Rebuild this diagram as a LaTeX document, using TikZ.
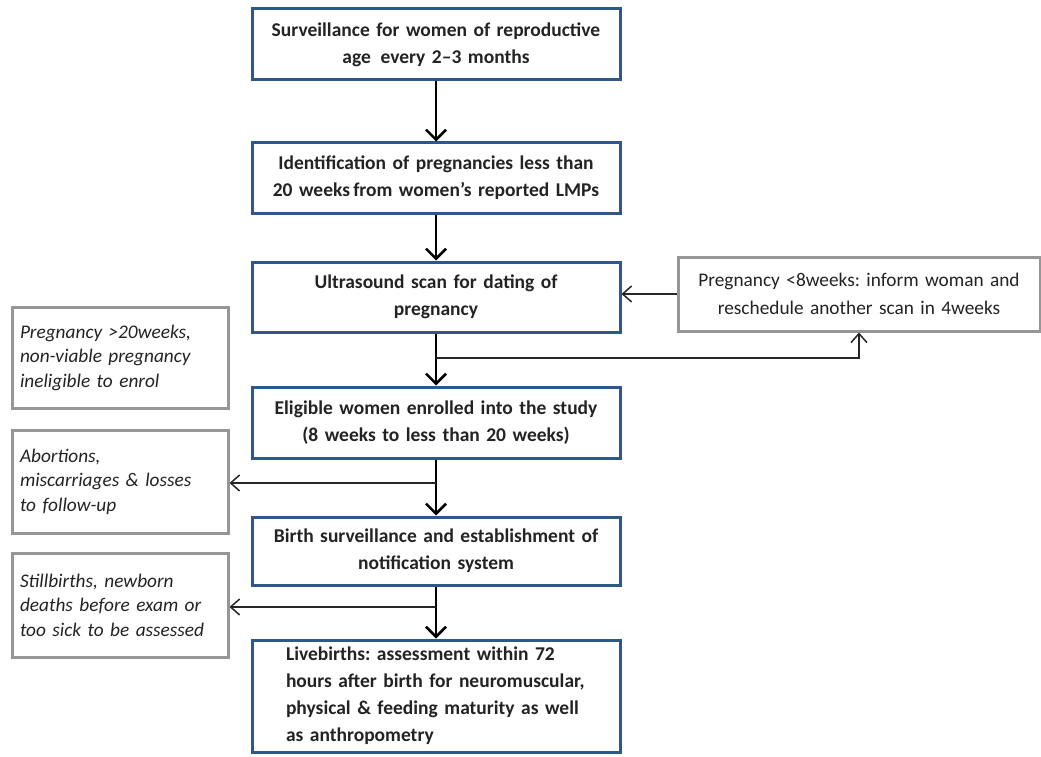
\documentclass[tikz,border=0pt]{standalone}
\usepackage{fontspec}
\setmainfont{Carlito}
\usetikzlibrary{arrows.meta}
\definecolor{boxblue}{RGB}{44,88,138}
\definecolor{boxgray}{RGB}{150,150,150}
\definecolor{txt}{RGB}{35,35,35}
\frenchspacing
\begin{document}
\begin{tikzpicture}[x=1pt,y=-1pt,
 mainbox/.style={draw=boxblue, line width=3pt, fill=white, minimum width=368pt, text width=355pt, align=center, font=\fontsize{19.5}{27}\selectfont\bfseries, text=txt, inner sep=0pt},
 notebox/.style={draw=boxgray, line width=3pt, fill=white, text=txt, font=\fontsize{19.3}{28}\selectfont, align=center, inner sep=0pt},
 sidebox/.style={draw=boxgray, line width=3pt, fill=white, text=txt, font=\fontsize{19.3}{24.5}\selectfont\itshape, align=left, inner xsep=8pt, inner ysep=0pt, text width=200pt},
 flow/.style={line width=2.5pt, -{Straight Barb[length=10pt,width=20pt,line width=2.5pt]}},
 side/.style={line width=1.5pt, draw=black!85, -{Straight Barb[length=9pt,width=16pt,line width=1.5pt]}},
]
\useasboundingbox (0,0) rectangle (1041,757);

\node[mainbox, minimum height=71pt] (b1) at (436,44.5) {Surveillance for women of reproductive\\age\, every 2–3 months};
\node[mainbox, minimum height=70pt] (b2) at (436,178) {Identification of pregnancies less than\\20 weeks\,from women’s reported LMPs};
\node[mainbox, minimum height=70pt] (b3) at (436,297) {Ultrasound scan for dating of\\pregnancy};
\node[mainbox, minimum height=71pt] (b4) at (436,422.5) {Eligible women enrolled into the study\\(8 weeks to less than 20 weeks)};
\node[mainbox, minimum height=68pt] (b5) at (436,551) {Birth surveillance and establishment of\\notification system};
\node[mainbox, minimum height=112pt, text width=300pt, align=left] (b6) at (436,696) {Livebirths: assessment within 72\\hours after birth for neuromuscular,\\physical \& feeding maturity as well\\as anthropometry};

\node[notebox, minimum width=362pt, minimum height=74pt, text width=350pt] (rb) at (859,294) {Pregnancy <8weeks: inform woman and\\reschedule another scan in 4weeks};

\node[sidebox, minimum height=101pt] (l1) at (120,357.5) {Pregnancy >20weeks,\\non-viable pregnancy\\ineligible to enrol};
\node[sidebox, minimum height=103pt] (l2) at (120,481.5) {Abortions,\\miscarriages \& losses\\to follow-up};
\node[sidebox, minimum height=104pt] (l3) at (120,605) {Stillbirths, newborn\\deaths before exam or\\too sick to be assessed};

\draw[flow] (b1) -- (b2);
\draw[flow] (b2) -- (b3);
\draw[flow] (b3) -- (b4);
\draw[flow] (b4) -- (b5);
\draw[flow] (b5) -- (b6);

\coordinate (j1) at (436,358);
\coordinate (j2) at (436,483);
\coordinate (j3) at (436,607);
\draw[side] (j1) -| (rb.south);
\draw[side] (rb.west) -- (rb.west -| b3.east);
\draw[side] (j2) -- (j2 -| l2.east);
\draw[side] (j3) -- (j3 -| l3.east);
\end{tikzpicture}
\end{document}
